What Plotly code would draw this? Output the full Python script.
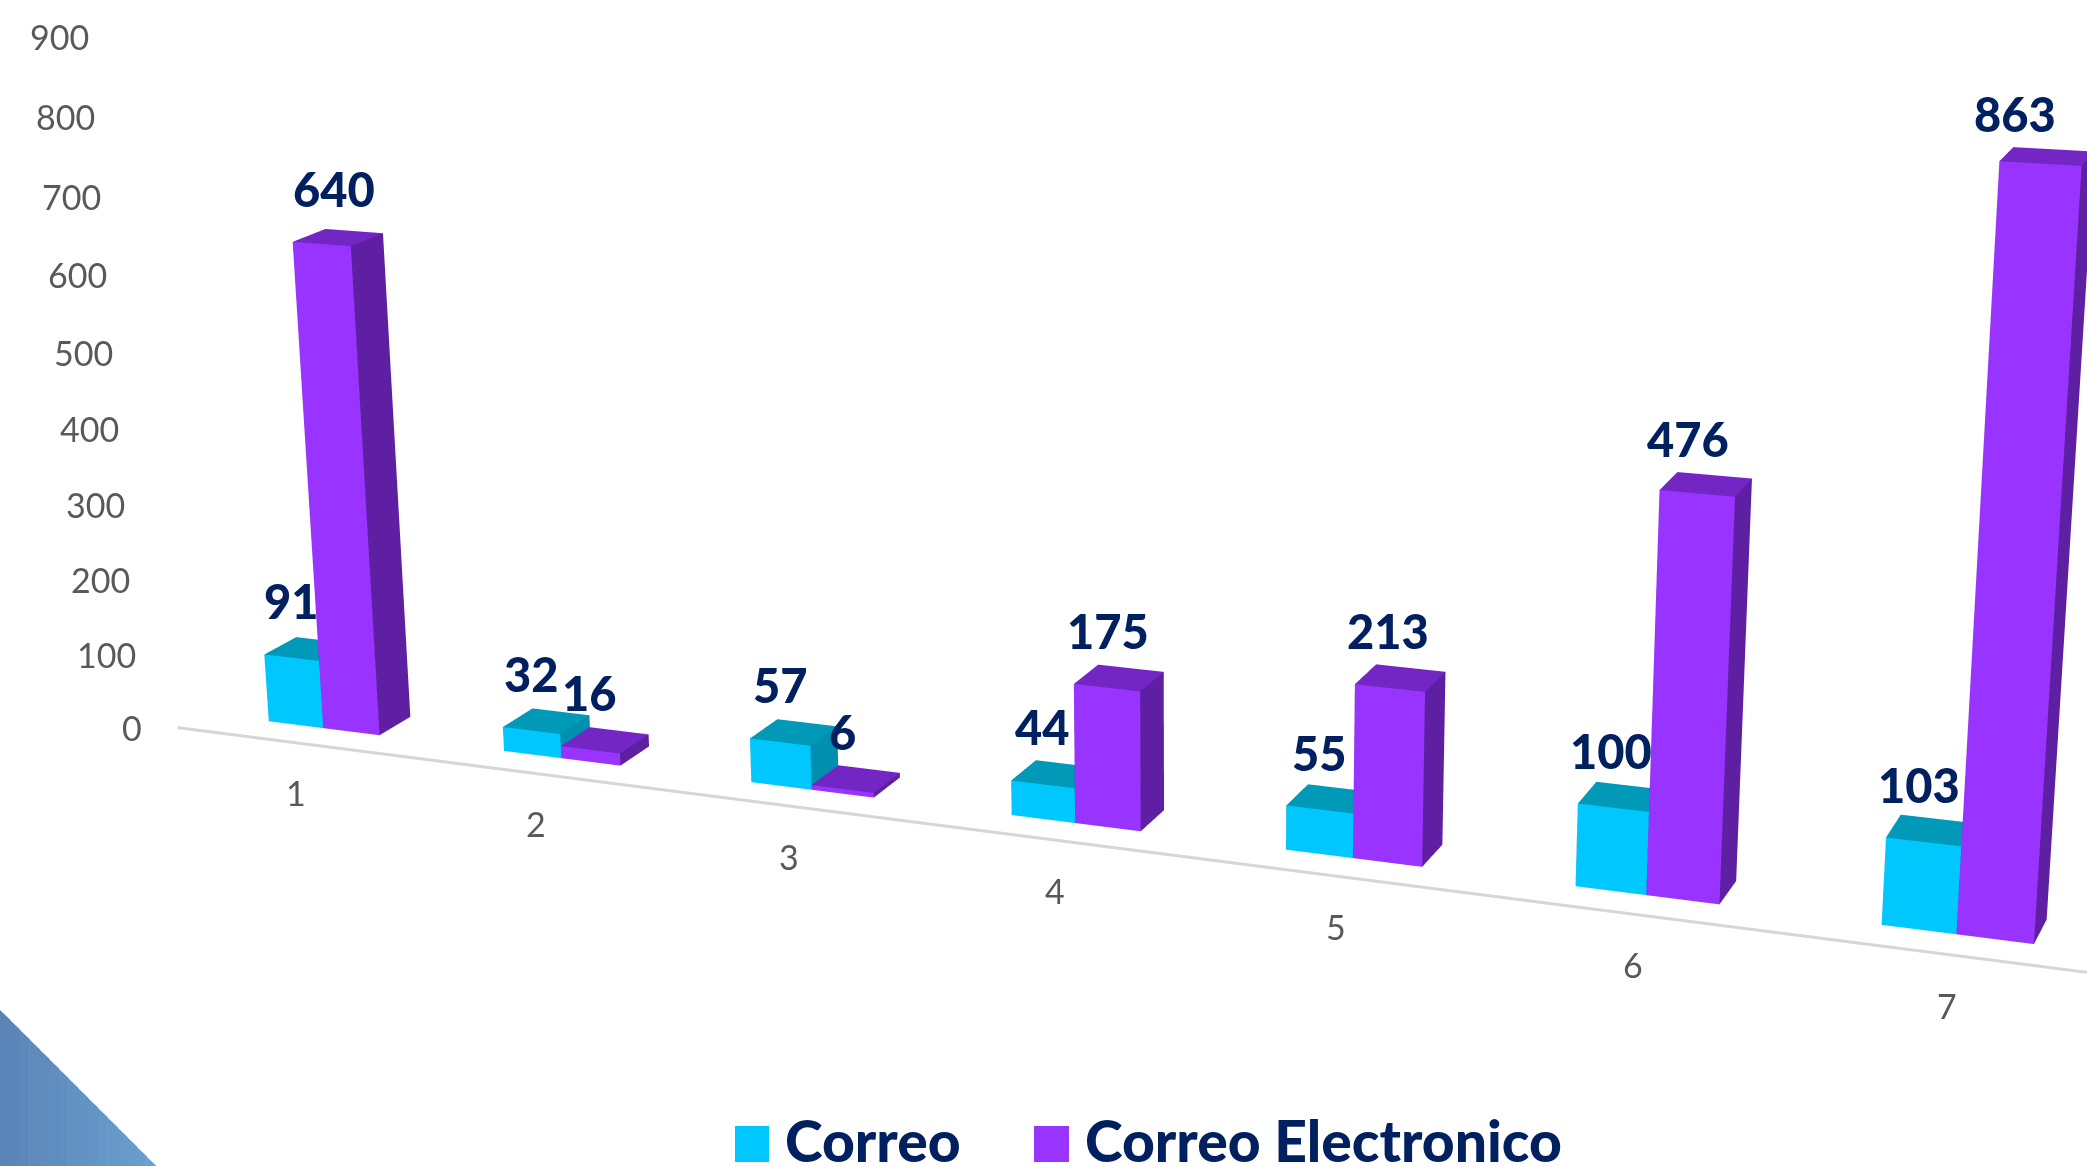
import plotly.graph_objects as go

categories = ["1", "2", "3", "4", "5", "6", "7"]
correo = [91, 32, 57, 44, 55, 100, 103]
correo_electronico = [640, 16, 6, 175, 213, 476, 863]
value_ticks = [0, 100, 200, 300, 400, 500, 600, 700, 800, 900]

# small label nudges in pixels (labels sit slightly off-centre in the reference)
correo_dx = [0, 0, 0, 0, 0, -2, -5]
correo_dy = [57, 57, 57, 57, 57, 57, 57]
electronico_dx = [12, -1, 0, 1, -2, -9, -25]
electronico_dy = [55, 57, 57, 57, 57, 54, 50]

# oblique view of the chart space: each data direction expressed in scene units
ORIGIN = (-0.5117, 0.0, -0.1031)
PER_CATEGORY = (0.1775, -0.0245, -0.0183)
PER_VALUE = (-5.75e-6, -5.29e-5, 5.27e-4)
PER_DEPTH = (0.01629, 0.01208, 0.01187)
CORREO_W = 0.236
ELECTRONICO_W = 0.241
RANGE = 1.2


def to_scene(t, d, v):
    return tuple(ORIGIN[i] + t * PER_CATEGORY[i] + v * PER_VALUE[i] + d * PER_DEPTH[i] for i in range(3))


def bars(values, start, width, front, top, side):
    xs, ys, zs, ii, jj, kk, fc = [], [], [], [], [], [], []
    for n, val in enumerate(values):
        base = len(xs)
        l, r = n + start, n + start + width
        # 0-3 front corners, 4-7 back corners
        for d in (0, 1):
            for (t, v) in ((l, 0), (r, 0), (r, val), (l, val)):
                p = to_scene(t, d, v)
                xs.append(p[0]); ys.append(p[1]); zs.append(p[2])
        mapping = [((0, 1, 2, 3), front), ((3, 2, 6, 7), top), ((1, 5, 6, 2), side),
                   ((0, 4, 7, 3), side), ((4, 5, 6, 7), side)]
        for q, col in mapping:
            a, b, c, e = [base + m for m in q]
            ii += [a, a]; jj += [b, c]; kk += [c, e]; fc += [col, col]
    return dict(x=xs, y=ys, z=zs, i=ii, j=jj, k=kk, facecolor=fc)


LIGHT = dict(ambient=1, diffuse=0, specular=0, roughness=1, fresnel=0)
CYAN, PURPLE = "#00c8ff", "#9933ff"
fig = go.Figure()
fig.add_trace(go.Mesh3d(name="Correo", flatshading=True, lighting=LIGHT, hoverinfo="skip",
                        **bars(correo, -CORREO_W, CORREO_W, CYAN, "#0099b8", "#008fae")))
fig.add_trace(go.Mesh3d(name="Correo Electronico", flatshading=True, lighting=LIGHT, hoverinfo="skip",
                        **bars(correo_electronico, 0, ELECTRONICO_W, PURPLE, "#7426c4", "#5f1fa3")))

a0, a1 = to_scene(-0.52, -0.8, 0), to_scene(6.6, -0.8, 0)
fig.add_trace(go.Scatter3d(x=[a0[0], a1[0]], y=[a0[1], a1[1]], z=[a0[2], a1[2]], mode="lines",
                           line=dict(color="#d6d6d6", width=6), hoverinfo="skip", showlegend=False))

NAVY = "#002060"
GRAY = "#595959"
ann = []


def scene_note(p, text, size, color, weight="normal", **kw):
    ann.append(dict(x=p[0], y=p[1], z=p[2], text=text, showarrow=False,
                    font=dict(family="Lato", size=size, color=color, weight=weight), **kw))


for v in value_ticks:
    scene_note(to_scene(-0.64, -1, v), str(v), 34, GRAY, xanchor="right", yanchor="middle")
for n, c in enumerate(categories):
    scene_note(to_scene(n, -1, 0), c, 34, GRAY, xanchor="center", yanchor="middle", xshift=5, yshift=-46)
for n, v in enumerate(correo):
    scene_note(to_scene(n - CORREO_W / 2, 0, v), str(v), 47, NAVY, 900, xanchor="center", yanchor="middle",
               xshift=correo_dx[n], yshift=correo_dy[n])
for n, v in enumerate(correo_electronico):
    scene_note(to_scene(n + ELECTRONICO_W / 2, 0, v), str(v), 47, NAVY, 900, xanchor="center", yanchor="middle",
               xshift=electronico_dx[n], yshift=electronico_dy[n])

W, H = 2087, 1166
shapes = []
# decorative corner triangle with a left-to-right blue gradient
STRIPS = 16
for s in range(STRIPS):
    x0, x1 = 156 * s / STRIPS, 156 * (s + 1) / STRIPS
    f = s / (STRIPS - 1)
    col = "rgb(%d,%d,%d)" % (91 + 15 * f, 133 + 26 * f, 184 + 24 * f)
    path = "M %f,%f L %f,%f L %f,%f L %f,%f Z" % (x0 / W, (H - 1010 - x0) / H, (x1 + .5) / W, (H - 1010 - x1) / H, (x1 + .5) / W, 0, x0 / W, 0)
    shapes.append(dict(type="path", xref="paper", yref="paper", path=path, fillcolor=col, line=dict(width=0)))
for x0, x1, col in ((735, 769, CYAN), (1034, 1069, PURPLE)):
    shapes.append(dict(type="rect", xref="paper", yref="paper", x0=x0 / W, x1=x1 / W,
                       y0=(H - 1162) / H, y1=(H - 1126) / H, fillcolor=col, line=dict(width=0)))

legend_notes = [dict(x=783 / W, y=-10 / H, xref="paper", yref="paper", xanchor="left", yanchor="bottom",
                     text="Correo", showarrow=False, font=dict(family="Lato", size=57, color=NAVY, weight=900)),
                dict(x=1083 / W, y=-10 / H, xref="paper", yref="paper", xanchor="left", yanchor="bottom",
                     text="Correo Electronico", showarrow=False, font=dict(family="Lato", size=57, color=NAVY, weight=900))]

hidden = dict(visible=False, range=[-RANGE, RANGE], autorange=False)
fig.update_layout(
    width=W, height=H, autosize=False, margin=dict(l=0, r=0, t=0, b=0), showlegend=False,
    paper_bgcolor="white", shapes=shapes, annotations=legend_notes,
    scene=dict(domain=dict(x=[0, 1], y=[0, 1]), xaxis=hidden, yaxis=hidden, zaxis=hidden,
               aspectmode="manual", aspectratio=dict(x=1, y=1, z=1), bgcolor="rgba(0,0,0,0)",
               camera=dict(eye=dict(x=0, y=-1 / (2 * RANGE), z=0), center=dict(x=0, y=0, z=0),
                           up=dict(x=0, y=0, z=1), projection=dict(type="perspective")),
               annotations=ann))
fig.write_html("out.html", config=dict(displayModeBar=False),
               post_script="document.body.style.margin='0';document.body.style.overflow='hidden';")
